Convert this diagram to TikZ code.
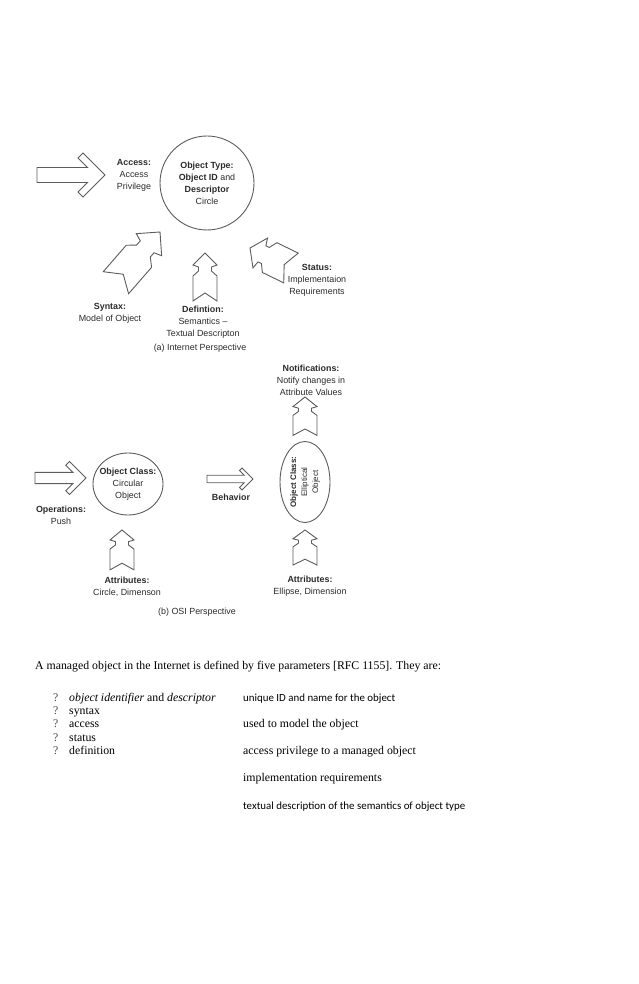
\documentclass[tikz,border=0pt]{standalone}
\usepackage{fontspec}
\setmainfont{Liberation Serif}
\setsansfont{Liberation Sans}
\newfontfamily\calibrifont{Carlito}
\usetikzlibrary{shapes.geometric}
\definecolor{DiagLine}{HTML}{5C5C5C}
\definecolor{DiagText}{HTML}{2B2B2B}
\newcommand{\diagfont}{\sffamily\fontsize{8.9}{12}\selectfont}
\tikzset{
    % Object shapes - circle and ellipse
    objround/.style={
        ellipse,
        draw=DiagLine,
        line width=0.9pt,
        inner sep=0pt,
        align=center,
        font=\diagfont,
        text=DiagText
    },
    desc/.style={
        align=center,
        inner sep=0pt,
        font=\diagfont,
        text=DiagText
    },
    bodytext/.style={
        anchor=base west,
        inner sep=0pt,
        font=\fontsize{11.8}{14}\selectfont
    },
    % Block arrows - outline only
    blockline/.style={
        draw=DiagLine,
        line width=0.9pt,
        line join=miter,
        fill=white
    },
    fatarrow/.pic={
        \draw[blockline] (0,0) -- (-22,-22) -- (-27,-17) -- (-17.5,-7.5) -- (-#1,-7.5)
            -- (-#1,7.5) -- (-17.5,7.5) -- (-27,17) -- (-22,22) -- cycle;
    },
    forkarrow/.pic={
        \draw[blockline] (0,0) -- (12,12) -- (6.5,14) -- (6.5,18) -- (12,23) -- (12,48)
            -- (0,40) -- (-12,48) -- (-12,23) -- (-6.5,18) -- (-6.5,14) -- (-12,12) -- cycle;
    }
}

\begin{document}
\begin{tikzpicture}[x=1pt, y=-1pt]
    \useasboundingbox (0,0) rectangle (638,984);

    % (a) Internet perspective
    \node[objround, minimum size=94pt] (otype) at (207,183) {\textbf{Object Type:}\\\textbf{Object ID} and\\\textbf{Descriptor}\\Circle};
    \node[desc] (acc) at (134,175) {\textbf{Access:}\\Access\\Privilege};
    \pic at (105,175) {fatarrow=68};

    \pic[rotate=-41, scale=1.4] at (160,232) {forkarrow};
    \pic at (205,253) {forkarrow};
    \pic[rotate=64, xscale=1.38, yscale=0.95] at (250,248) {forkarrow};

    \node[desc] (syn) at (110,313) {\textbf{Syntax:}\\Model of Object};
    \node[desc] (defn) at (203,322) {\textbf{Defintion:}\\Semantics --\\Textual Descripton};
    \node[desc] (stat) at (317,280) {\textbf{Status:}\\Implementaion\\Requirements};
    \node[desc] (capa) at (200,348) {(a) Internet Perspective};

    % (b) OSI perspective
    \node[desc] (notif) at (311,380) {\textbf{Notifications:}\\Notify changes in\\Attribute Values};
    \pic[yscale=0.8] at (305,397) {forkarrow};
    \node[objround, minimum width=81pt, minimum height=50pt, rotate=90,
        font=\sffamily\fontsize{8}{11}\selectfont] (ecls) at (305,482) {\textbf{Object Class:}\\Elliptical\\Object};
    \pic[yscale=0.73] at (305,530) {forkarrow};
    \node[desc] (attrr) at (310,586) {\textbf{Attributes:}\\Ellipse, Dimension};

    \pic[scale=0.75] at (86,478) {fatarrow=68};
    \node[desc] (ops) at (61,515) {\textbf{Operations:}\\Push};
    \node[objround, minimum width=70pt, minimum height=62pt, inner xsep=-5pt] (ccls) at (128,484) {\textbf{Object Class:}\\Circular\\Object};
    \pic[yscale=0.83] at (122,530) {forkarrow};
    \node[desc] (attrl) at (127,587) {\textbf{Attributes:}\\Circle, Dimenson};

    \pic[scale=0.5] at (253,479) {fatarrow=92};
    \node[desc] (beh) at (231,497) {\textbf{Behavior}};
    \node[desc] (capb) at (197,612) {(b) OSI Perspective};

    % Parameter list
    \node[bodytext] (intro) at (35,669) {A managed object in the Internet is defined by five parameters [RFC 1155]. They are:};
    \foreach \y in {701,714,727,741,754}
        \node[bodytext, text=black!70] (q\y) at (53,\y) {?};
    \node[bodytext] (p1) at (69,701) {\textit{object identifier} and \textit{descriptor}};
    \node[bodytext] (p2) at (69,714) {syntax};
    \node[bodytext] (p3) at (69,727) {access};
    \node[bodytext] (p4) at (69,741) {status};
    \node[bodytext] (p5) at (69,754) {definition};

    \node[bodytext, font=\calibrifont\fontsize{10.9}{13}\selectfont] (m1) at (243,701) {unique ID and name for the object};
    \node[bodytext] (m2) at (243,727) {used to model the object};
    \node[bodytext] (m3) at (243,754) {access privilege to a managed object};
    \node[bodytext] (m4) at (243,781) {implementation requirements};
    \node[bodytext, font=\calibrifont\fontsize{10.9}{13}\selectfont] (m5) at (243,809) {textual description of the semantics of object type};
\end{tikzpicture}
\end{document}
